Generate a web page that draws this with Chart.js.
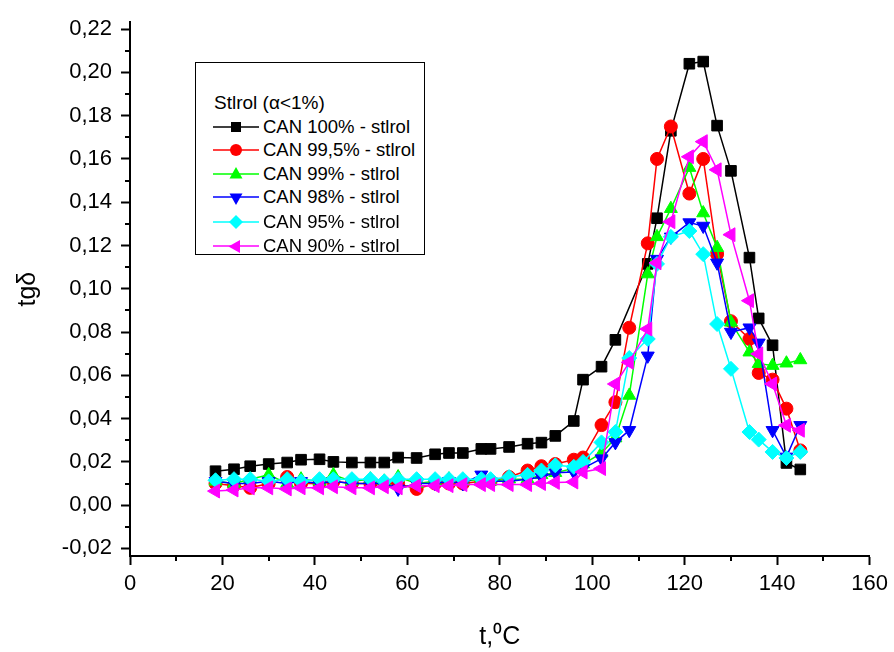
<!DOCTYPE html>
<html>
<head>
<meta charset="utf-8">
<script src="https://cdn.jsdelivr.net/npm/chart.js@4.4.0/dist/chart.umd.min.js"></script>
<style>
  body { margin: 0; background: #fff; }
  #wrap { position: relative; width: 894px; height: 652px; }
  #legend {
    position: absolute; left: 195px; top: 62px; width: 230px; height: 193px;
    border: 1px solid #000; box-sizing: border-box; background: #fff;
    font-family: "Liberation Sans", Arial, sans-serif; font-size: 18.5px; color: #000;
  }
  #legend .title { position: absolute; left: 18px; top: 29px; font-size: 19px; }
  #legend .row { position: absolute; left: 17px; height: 22px; display: flex; align-items: center; }
  #legend svg { margin-right: 4px; }
</style>
</head>
<body>
<div id="wrap">
  <canvas id="chart" width="894" height="652"></canvas>
  <div id="legend"></div>
</div>
<script>
// temperatures, deg C
const temps = [18.5, 22.5, 26, 30, 34, 37, 41, 44, 48, 52, 55, 58, 62, 66, 69, 72, 76, 78, 82, 86, 89, 92,
               96, 98, 102, 105, 108, 112, 114, 117, 121, 124, 127, 130, 134, 136, 139, 142, 145];

const can100 = [0.0157, 0.0166, 0.018, 0.019, 0.0197, 0.021, 0.0212, 0.020, 0.0197, 0.0197, 0.0197, 0.022,
                0.0218, 0.0235, 0.0241, 0.0241, 0.026, 0.026, 0.0269, 0.0284, 0.0289, 0.032,
                0.0389, 0.058, 0.064, 0.0764, null, 0.1115, 0.1326, 0.173, 0.204, 0.205, 0.1754, 0.1545,
                0.1144, 0.0863, 0.0739, 0.0195, 0.0165];
const can995 = [0.010, 0.009, 0.008, 0.010, 0.013, 0.010, 0.010, 0.011, 0.010, 0.010, 0.010, 0.010,
                0.0075, 0.010, 0.010, 0.010, 0.011, 0.011, 0.013, 0.016, 0.018, 0.019,
                0.021, 0.022, 0.037, 0.0476, 0.082, 0.121, 0.160, 0.175, 0.144, 0.160, 0.116, 0.085,
                0.0768, 0.0611, 0.058, 0.0446, 0.0253];
const can99 = [0.011, 0.010, 0.012, 0.014, 0.010, 0.012, 0.011, 0.014, 0.011, 0.012, 0.011, 0.013,
               0.010, 0.011, 0.012, 0.011, 0.012, 0.011, 0.012, 0.012, 0.014, 0.015,
               0.017, 0.019, 0.024, 0.031, 0.0507, 0.1068, 0.124, 0.137, 0.156, 0.135, 0.119, 0.0845,
               0.0707, 0.0654, 0.0645, 0.0656, 0.0671];
const can98 = [0.011, 0.010, 0.010, 0.011, 0.010, 0.011, 0.010, 0.011, 0.010, 0.010, 0.010, 0.0075,
               0.010, 0.010, 0.011, 0.010, 0.014, 0.011, 0.011, 0.012, 0.013, 0.015,
               0.0153, 0.017, 0.0215, 0.029, 0.0346, 0.069, 0.1137, 0.124, 0.1306, 0.129, 0.112, 0.080,
               0.082, 0.075, 0.0346, 0.0223, 0.0369];
const can95 = [0.0115, 0.012, 0.012, 0.011, 0.012, 0.011, 0.012, 0.012, 0.012, 0.012, 0.011, 0.012,
               0.012, 0.012, 0.012, 0.012, 0.012, 0.012, 0.013, 0.014, 0.016, 0.0184,
               0.0177, 0.020, 0.029, 0.0338, 0.068, 0.0768, 0.1115, 0.124, 0.1267, 0.116, 0.0837, 0.063,
               0.0338, 0.0303, 0.0246, 0.0218, 0.0246];
const can90 = [0.0065, 0.007, 0.008, 0.008, 0.0075, 0.008, 0.008, 0.0085, 0.008, 0.008, 0.0085, 0.008,
               0.009, 0.009, 0.009, 0.0095, 0.0095, 0.0095, 0.0095, 0.0095, 0.010, 0.0105,
               0.0107, 0.0153, 0.0169, 0.056, 0.066, 0.0814, 0.112, 0.131, 0.161, 0.168, 0.155, 0.125,
               0.0945, 0.0699, 0.056, 0.0369, 0.0346];

const seriesNames = ['CAN 100% - stlrol', 'CAN 99,5% - stlrol', 'CAN 99% - stlrol',
                     'CAN 98% - stlrol', 'CAN 95% - stlrol', 'CAN 90% - stlrol'];
const yTicks = [-0.02, 0, 0.02, 0.04, 0.06, 0.08, 0.10, 0.12, 0.14, 0.16, 0.18, 0.20, 0.22];

const styles = [
    { color: '#000000', shape: 'rect', r: 7.5, rot: 0 },
    { color: '#ff0000', shape: 'circle', r: 6.5, rot: 0 },
    { color: '#00ff00', shape: 'triangle', r: 7.5, rot: 0 },
    { color: '#0000ff', shape: 'triangle', r: 7.5, rot: 180 },
    { color: '#00ffff', shape: 'rectRot', r: 7.5, rot: 0 },
    { color: '#ff00ff', shape: 'triangle', r: 8, rot: 270 }
];
const allValues = [can100, can995, can99, can98, can95, can90];

const datasets = allValues.map((vals, i) => ({
    label: seriesNames[i],
    data: temps.map((t, j) => ({ x: t, y: vals[j] })),
    borderColor: styles[i].color,
    backgroundColor: styles[i].color,
    pointBackgroundColor: styles[i].color,
    pointBorderColor: styles[i].color,
    pointStyle: styles[i].shape,
    pointRotation: styles[i].rot,
    pointRadius: styles[i].r,
    pointBorderWidth: 1,
    borderWidth: 1.5,
    spanGaps: true,
    order: 6 - i
}));

// small ticks between the labelled ones
const minorTicks = {
    id: 'minorTicks',
    afterDraw(chart) {
        const ctx = chart.ctx;
        const xs = chart.scales.x, ys = chart.scales.y;
        ctx.save();
        ctx.strokeStyle = '#000';
        ctx.lineWidth = 2;
        ctx.beginPath();
        for (let v = 10; v < 160; v += 20) {
            const px = Math.round(xs.getPixelForValue(v));
            ctx.moveTo(px, xs.top);
            ctx.lineTo(px, xs.top + 5);
        }
        for (let k = -1; k <= 21; k += 2) {
            const py = Math.round(ys.getPixelForValue(k / 100));
            ctx.moveTo(ys.right, py);
            ctx.lineTo(ys.right - 5, py);
        }
        ctx.stroke();
        ctx.restore();
    }
};

const family = '"Liberation Sans", Arial, sans-serif';
const font = { family: family, size: 22 };

new Chart(document.getElementById('chart'), {
    type: 'line',
    data: { datasets: datasets },
    options: {
        responsive: false,
        animation: false,
        layout: { padding: { left: 0, right: 24, top: 10, bottom: 0 } },
        plugins: { legend: { display: false }, tooltip: { enabled: false } },
        scales: {
            x: {
                type: 'linear', min: 0, max: 160,
                ticks: { stepSize: 20, color: '#000', font: font, padding: 6, maxRotation: 0 },
                grid: { drawOnChartArea: false, drawTicks: true, tickLength: 9, tickColor: '#000', tickWidth: 2 },
                border: { display: true, color: '#000', width: 2 },
                title: { display: true, text: 't,\u2070C', color: '#000', font: { family: family, size: 25 }, padding: { top: 0, bottom: 0 } },
                afterFit(scale) { scale.height = 96; }
            },
            y: {
                type: 'linear', min: -0.0235, max: 0.2232,
                afterBuildTicks(scale) { scale.ticks = yTicks.map(v => ({ value: v })); },
                ticks: {
                    color: '#000', font: font, padding: 9,
                    callback: v => v.toFixed(2).replace('.', ',')
                },
                grid: { drawOnChartArea: false, drawTicks: true, tickLength: 9, tickColor: '#000', tickWidth: 2 },
                border: { display: true, color: '#000', width: 2 },
                title: { display: true, text: 'tg\u03b4', color: '#000', font: { family: family, size: 25 }, padding: { top: 13, bottom: 0 } },
                afterFit(scale) { scale.width = 130; }
            }
        }
    },
    plugins: [minorTicks]
});

// legend box drawn in html
function markerSvg(st) {
    const c = st.color;
    let shape = '';
    if (st.shape === 'rect') shape = `<rect x="18" y="6" width="10" height="10" fill="${c}"/>`;
    else if (st.shape === 'circle') shape = `<circle cx="23" cy="11" r="6" fill="${c}"/>`;
    else if (st.shape === 'rectRot') shape = `<polygon points="23,4 30,11 23,18 16,11" fill="${c}"/>`;
    else {
        shape = `<polygon points="23,4 29.5,15.5 16.5,15.5" fill="${c}" transform="rotate(${st.rot} 23 11.5)"/>`;
    }
    return `<svg width="46" height="22"><line x1="0" y1="11" x2="46" y2="11" stroke="${c}" stroke-width="1.5"/>${shape}</svg>`;
}
const legend = document.getElementById('legend');
let html = '<div class="title">Stlrol (\u03b1&lt;1%)</div>';
const rowTops = [53, 76, 100, 123, 148, 172];
seriesNames.forEach((name, i) => {
    html += `<div class="row" style="top:${rowTops[i]}px">${markerSvg(styles[i])}<span>${name}</span></div>`;
});
legend.innerHTML = html;
</script>
</body>
</html>
